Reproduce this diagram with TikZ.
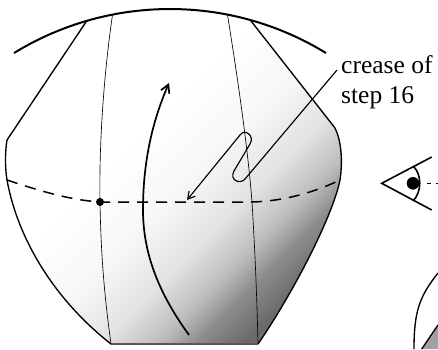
\documentclass[tikz,border=0pt]{standalone}
\usepackage{fontspec}
\setmainfont{Liberation Serif}
\usetikzlibrary{arrows.meta,calc}
% paper tone: white towards the upper left, grey towards the lower right
\pgfdeclareverticalshading{paper}{100bp}{color(0bp)=(black!60); color(25bp)=(black!58); color(30bp)=(black!45); color(34bp)=(black!26); color(40bp)=(black!11); color(48bp)=(black!3); color(58bp)=(white); color(100bp)=(white)}
\begin{document}
\begin{tikzpicture}[x=1pt,y=-1pt,
  outline/.style={line width=1.35pt, line join=round},
  rim/.style={line width=2pt},
  crease/.style={line width=0.65pt},
  valley/.style={line width=1.5pt, dash pattern=on 11pt off 8pt},
  movearrow/.style={line width=1.7pt, -{Straight Barb[length=8pt,width=9pt]}},
  leader/.style={line width=1.15pt, line join=round, -{Straight Barb[length=7pt,width=8pt]}},
  eyeline/.style={line width=1.6pt, line join=miter},
  label/.style={font=\fontsize{25.5}{30}\selectfont, anchor=base west, inner sep=0pt}
]
\useasboundingbox (0,0) rectangle (438,349);

% centre of the curved rim
\coordinate (c) at (170,307.5);
\coordinate (tl) at ($(c)+(-106.2:298.5)$);
\coordinate (tr) at ($(c)+(-74.4:298.5)$);
\coordinate (ctl) at ($(c)+(-101.1:298.5)$);
\coordinate (ctr) at ($(c)+(-78.9:298.5)$);
\coordinate (kl) at (7,140);
\coordinate (wl) at (7,180);
\coordinate (kr) at (335,128);
\coordinate (wr) at (340,180);
\coordinate (bl) at (111,344);
\coordinate (br) at (258,344);
\coordinate (dl) at (100,202);
\coordinate (dr) at (252,202);

% shaded paper
\path[shading=paper, shading angle=45]
  (bl) .. controls (55,300) and (18,240) .. (wl)
  .. controls (5,168) and (5,152) .. (kl) -- (tl)
  arc[start angle=-106.2, end angle=-74.4, radius=298.5] -- (kr)
  .. controls (341,140) and (343,160) .. (wr)
  .. controls (333,215) and (295,290) .. (br) -- cycle;

% outline
\draw[outline] (bl) .. controls (55,300) and (18,240) .. (wl)
  .. controls (5,168) and (5,152) .. (kl) -- (tl);
\draw[outline] (tr) -- (kr) .. controls (341,140) and (343,160) .. (wr)
  .. controls (333,215) and (295,290) .. (br);
\draw[line width=1.5pt, black!65] (bl) -- (br);

% rim
\draw[rim] (c) ++(-121.5:298.5) arc[start angle=-121.5, end angle=-58.5, radius=298.5];

% creases
\draw[crease] (ctl) .. controls (103,80) and (99,150) .. (dl)
  .. controls (101,260) and (105,300) .. (bl);
\draw[crease] (ctr) .. controls (238,80) and (248,150) .. (dr)
  .. controls (255,250) and (257,300) .. (br);

% valley fold
\draw[valley] (wl) .. controls (40,191) and (70,200) .. (dl) -- (dr)
  .. controls (285,201) and (315,192) .. (wr);
\fill (dl) circle[radius=4pt];

% turning arrow
\coordinate (mt) at (189,335);
\coordinate (mh) at (169,83);
\draw[movearrow] (mt) .. controls (160,295) and (143,255) .. (143,210)
  .. controls (143,160) and (153,120) .. (mh);

% label and pleat leader
\node[label] (l1) at (341,73) {crease of};
\node[label] (l2) at (341,103) {step 16};
\coordinate (ls) at (337,70);
\coordinate (lh) at (187,200);
\draw[leader] (ls) -- (245,179) .. controls (240,185) and (229,180) .. (234,171)
  -- (250,144) .. controls (255,136) and (245,128) .. (240,135) -- (lh);

% eye
\coordinate (eye) at (381.7,183.3);
\coordinate (eu) at (431.7,157);
\coordinate (ed) at (431.7,210);
\draw[eyeline] (eu) -- (eye) -- (ed);
\draw[eyeline] (413,166) .. controls (422,174) and (422,192) .. (413,201);
\fill (413,183.3) circle[radius=6.3pt];
\coordinate (vs) at (427,183.3);
\coordinate (ve) at (438,183.3);
\draw[line width=1.5pt, dash pattern=on 4pt off 5pt] (vs) -- (ve);

% next figure, edge
\coordinate (ga) at (421.7,349);
\coordinate (gb) at (438,325);
\fill[black!37] (ga) -- (gb) -- (438,349) -- cycle;
\draw[outline] (ga) -- (gb);
\draw[outline] (438,273) .. controls (420,296) and (414,310) .. (414,349);
\end{tikzpicture}
\end{document}
